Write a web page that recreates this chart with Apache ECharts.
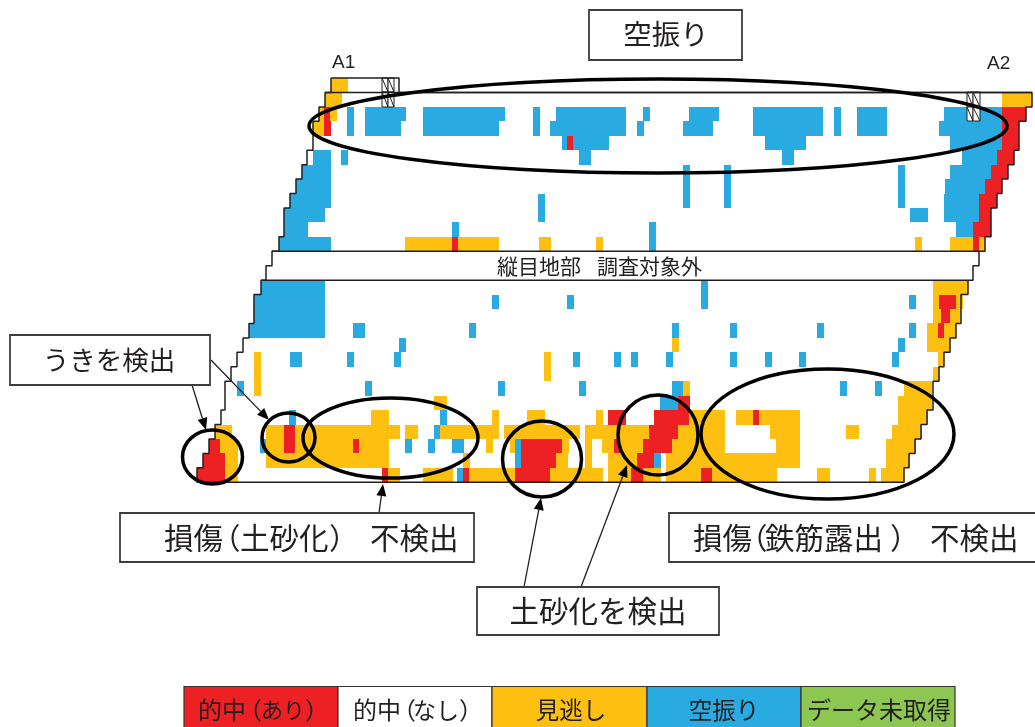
<!DOCTYPE html>
<html>
<head>
<meta charset="utf-8">
<style>
  html, body { margin: 0; padding: 0; background: #fff; }
  #chart { width: 1035px; height: 727px; }
</style>
<script src="https://cdn.jsdelivr.net/npm/echarts@6/dist/echarts.min.js"></script>
</head>
<body>
<div id="chart"></div>
<script>
// 判定ごとの区間 [行, 開始, 終了]
const missRuns = [
  [0, 331, 348], [1, 325, 342], [2, 319, 324], [2, 330, 337], [3, 313, 324],
  [11, 405, 452], [11, 458, 499], [11, 539, 551], [11, 596, 603], [11, 915, 922], [11, 950, 973], [11, 979, 985],
  [1, 1002, 1032],
  [14, 933, 968], [15, 933, 939], [15, 956, 963], [16, 933, 941], [16, 950, 961],
  [17, 927, 938], [17, 944, 956], [18, 672, 679], [18, 927, 950],
  [19, 254, 261], [19, 544, 551], [19, 938, 944], [20, 254, 261], [20, 544, 551], [20, 933, 939],
  [21, 254, 261], [21, 683, 690], [21, 904, 932], [22, 434, 447], [22, 898, 932],
  [23, 371, 389], [23, 492, 499], [23, 527, 545], [23, 596, 603], [23, 689, 725], [23, 736, 753], [23, 759, 800], [23, 898, 928],
  [24, 215, 232], [24, 266, 284], [24, 295, 400], [24, 405, 418], [24, 440, 499], [24, 504, 580], [24, 585, 649], [24, 678, 725], [24, 770, 800], [24, 846, 859], [24, 892, 922],
  [25, 220, 238], [25, 266, 284], [25, 295, 353], [25, 359, 389], [25, 486, 493], [25, 510, 515], [25, 562, 569], [25, 585, 592], [25, 602, 614], [25, 620, 643], [25, 672, 725], [25, 776, 800], [25, 886, 916],
  [26, 225, 238], [26, 266, 389], [26, 463, 470], [26, 556, 568], [26, 585, 592], [26, 608, 637], [26, 666, 800], [26, 886, 910],
  [27, 225, 238], [27, 388, 400], [27, 423, 453], [27, 469, 515], [27, 550, 603], [27, 608, 631], [27, 643, 661], [27, 666, 701], [27, 712, 777], [27, 817, 830], [27, 869, 876], [27, 881, 904]
]
const falseRuns = [
  [2, 347, 354], [2, 365, 406], [2, 423, 505], [2, 533, 540], [2, 556, 626], [2, 643, 650], [2, 689, 719], [2, 753, 823], [2, 834, 841], [2, 857, 887], [2, 944, 1002],
  [3, 347, 354], [3, 365, 401], [3, 423, 499], [3, 533, 540], [3, 550, 626], [3, 637, 644], [3, 683, 713], [3, 753, 823], [3, 834, 841], [3, 857, 887], [3, 939, 1002],
  [4, 562, 567], [4, 573, 609], [4, 765, 806], [4, 950, 1002],
  [5, 313, 331], [5, 341, 348], [5, 579, 591], [5, 782, 794], [5, 962, 997],
  [6, 302, 331], [6, 683, 690], [6, 724, 731], [6, 898, 905], [6, 950, 991],
  [7, 296, 331], [7, 683, 690], [7, 724, 731], [7, 898, 905], [7, 945, 985],
  [8, 290, 331], [8, 538, 545], [8, 683, 690], [8, 724, 731], [8, 898, 905], [8, 944, 979],
  [9, 284, 325], [9, 538, 545], [9, 910, 928], [9, 944, 979],
  [10, 284, 308], [10, 452, 459], [10, 649, 656], [10, 956, 973],
  [11, 279, 331], [11, 649, 656],
  [14, 261, 325], [14, 701, 708], [15, 254, 325], [15, 492, 499], [15, 567, 574], [15, 701, 708], [15, 909, 916],
  [16, 254, 325], [17, 249, 325], [17, 353, 365], [17, 469, 476], [17, 672, 679], [17, 730, 737], [17, 817, 824], [17, 909, 916],
  [18, 399, 406], [18, 898, 905],
  [19, 290, 302], [19, 347, 354], [19, 394, 401], [19, 573, 580], [19, 614, 621], [19, 631, 638], [19, 666, 673], [19, 730, 737], [19, 765, 772], [19, 799, 806], [19, 892, 899],
  [21, 237, 244], [21, 365, 372], [21, 498, 505], [21, 579, 586], [21, 672, 683], [21, 840, 847], [21, 875, 882],
  [22, 660, 678], [23, 289, 296], [23, 440, 447], [24, 434, 440],
  [25, 260, 266], [25, 405, 412], [25, 428, 435], [25, 452, 464], [25, 515, 521],
  [26, 515, 521], [26, 654, 661], [27, 457, 463]
]
const hitRuns = [
  [2, 324, 330], [3, 324, 331], [4, 567, 573], [11, 452, 458],
  [2, 1002, 1026], [3, 1002, 1019], [4, 1002, 1019], [5, 997, 1014], [6, 991, 1008], [7, 985, 1002], [8, 979, 997], [9, 979, 991], [10, 973, 991], [11, 973, 979],
  [15, 939, 956], [16, 941, 950], [17, 938, 944],
  [22, 678, 690], [23, 608, 626], [23, 654, 689], [23, 753, 759],
  [24, 284, 295], [24, 649, 678],
  [25, 209, 220], [25, 284, 295], [25, 353, 359], [25, 521, 562], [25, 614, 620], [25, 643, 672],
  [26, 203, 225], [26, 521, 556], [26, 637, 654],
  [27, 197, 225], [27, 382, 388], [27, 463, 469], [27, 515, 550], [27, 631, 643], [27, 701, 712]
]
const hatchCells = [[0, 382, 388], [0, 388, 394], [1, 382, 388], [1, 388, 394], [1, 967, 973], [1, 973, 980], [2, 967, 973], [2, 973, 980]]

// 外形の階段（行ごとの左端・右端）
const leftEdge = [331, 325, 319, 313, 313, 307, 302, 296, 290, 284, 284, 279, 272, 266, 261, 254, 254, 249, 243, 237, 231, 225, 225, 221, 215, 209, 203, 197]
const rightEdge = [399, 1032, 1026, 1019, 1019, 1014, 1008, 1002, 997, 991, 991, 985, 979, 973, 968, 961, 961, 956, 950, 944, 939, 933, 933, 927, 921, 915, 909, 904]
const dividerRows = [1, 12, 14]

const RED = '#ED2024'
const YELLOW = '#FDBF10'
const BLUE = '#29ABE2'
const GREEN = '#8DC650'
const LINE = '#231F20'
const FONT = '"Noto Sans CJK JP", sans-serif'
const LATIN = '"Liberation Sans", sans-serif'

// 行の境目に隙間が出ないよう整数に丸める
function cellRect (api) {
  const a = api.coord([api.value(1), api.value(0)])
  const b = api.coord([api.value(2), api.value(0) + 1])
  const x = Math.round(a[0])
  const y = Math.round(a[1])
  return { x: x, y: y, width: Math.round(b[0]) - x, height: Math.round(b[1]) - y }
}

function renderRun (params, api) {
  return {
    type: 'rect',
    shape: cellRect(api),
    style: { fill: api.visual('color') }
  }
}

function renderHatch (params, api) {
  const r = cellRect(api)
  return {
    type: 'group',
    children: [
      { type: 'rect', shape: r, style: { fill: '#fff', stroke: LINE, lineWidth: 1 } },
      {
        type: 'line',
        shape: { x1: r.x, y1: r.y, x2: r.x + r.width, y2: r.y + r.height },
        style: { stroke: LINE, lineWidth: 1 }
      }
    ]
  }
}

function runSeries (name, color, data) {
  return {
    name: name,
    type: 'custom',
    renderItem: renderRun,
    itemStyle: { color: color },
    encode: { x: [1, 2], y: 0 },
    data: data,
    z: 2,
    silent: true
  }
}

// 外形を一周する折れ線
function outlinePoints () {
  const pts = []
  leftEdge.forEach((x, r) => {
    pts.push([x, r])
    pts.push([x, r + 1])
  })
  for (let r = rightEdge.length - 1; r >= 0; r--) {
    pts.push([rightEdge[r], r + 1])
    pts.push([rightEdge[r], r])
  }
  pts.push([leftEdge[0], 0])
  return pts
}

function lineSeries (data, width) {
  return {
    type: 'line',
    data: data,
    symbol: 'none',
    lineStyle: { color: LINE, width: width },
    clip: false,
    z: 4,
    silent: true
  }
}

function box (x, y, w, h) {
  return {
    type: 'rect',
    z: 20,
    shape: { x: x, y: y, width: w, height: h },
    style: { fill: '#fff', stroke: '#3d3d3d', lineWidth: 1.8 }
  }
}

function ring (cx, cy, rx, ry) {
  return {
    type: 'ellipse',
    z: 10,
    shape: { cx: cx, cy: cy, rx: rx, ry: ry },
    style: { fill: 'none', stroke: '#000', lineWidth: 3.5 }
  }
}

function arrow (x1, y1, x2, y2) {
  const len = Math.hypot(x2 - x1, y2 - y1)
  const ux = (x2 - x1) / len
  const uy = (y2 - y1) / len
  const bx = x2 - ux * 12
  const by = y2 - uy * 12
  return [
    { type: 'line', z: 11, shape: { x1: x1, y1: y1, x2: bx, y2: by }, style: { stroke: LINE, lineWidth: 1.3 } },
    {
      type: 'polygon',
      z: 11,
      shape: { points: [[x2, y2], [bx - uy * 5, by + ux * 5], [bx + uy * 5, by - ux * 5]] },
      style: { fill: '#000' }
    }
  ]
}

function label (x, y, text, size, align, family) {
  return {
    type: 'text',
    z: 30,
    style: {
      x: x,
      y: y,
      text: text,
      font: size + 'px ' + (family || FONT),
      fill: LINE,
      align: align || 'left',
      verticalAlign: 'middle'
    }
  }
}

// 凡例
const legendEdges = [184, 338, 492, 647, 801, 955]
const legendColors = [RED, '#fff', YELLOW, BLUE, GREEN]
const legendRects = legendColors.map((color, i) => ({
  type: 'rect',
  z: 20,
  shape: { x: legendEdges[i], y: 686.5, width: legendEdges[i + 1] - legendEdges[i], height: 42 },
  style: { fill: color, stroke: '#333', lineWidth: 1.2 }
}))

const chart = echarts.init(document.getElementById('chart'), null, { renderer: 'canvas' })
chart.setOption({
  animation: false,
  backgroundColor: '#fff',
  grid: { left: 0, top: 78, width: 1035, height: 404.3 },
  xAxis: { type: 'value', min: 0, max: 1035, show: false },
  yAxis: { type: 'value', min: 0, max: 28, inverse: true, show: false },
  series: [
    runSeries('見逃し', YELLOW, missRuns),
    runSeries('空振り', BLUE, falseRuns),
    runSeries('的中（あり）', RED, hitRuns),
    {
      type: 'custom',
      renderItem: renderHatch,
      encode: { x: [1, 2], y: 0 },
      data: hatchCells,
      z: 3,
      silent: true
    },
    lineSeries(outlinePoints(), 1.5),
    ...dividerRows.map(r => lineSeries([[leftEdge[r], r], [rightEdge[r], r]], 1.5))
  ],
  graphic: [
    ring(658, 126, 349, 47),
    ring(212.5, 457, 30, 27),
    ring(288.5, 437.5, 26.5, 24.5),
    ring(390.5, 438, 87.5, 40),
    ring(542, 459, 39.5, 38),
    ring(658, 435, 40, 40),
    ring(827.5, 434, 126.5, 65),
    ...arrow(192, 385, 206, 430),
    ...arrow(211, 360, 269, 420),
    ...arrow(379, 513, 383, 484),
    ...arrow(524, 587, 541, 498),
    ...arrow(581, 587, 627, 465),
    label(332, 63, 'A1', 19, 'left', LATIN),
    label(987, 64, 'A2', 19, 'left', LATIN),
    label(497, 266, '縦目地部', 21),
    label(597, 266, '調査対象外', 21),

    box(589, 10, 153, 50),
    label(666, 34, '空振り', 28.5, 'center'),

    box(10, 335, 200, 50),
    label(109, 360, 'うきを検出', 26.5, 'center'),

    box(120, 513, 354, 49),
    label(164, 538, '損傷', 29.5),
    label(211, 538, '（', 29.5),
    label(240, 538, '土砂化', 29.5),
    label(329, 538, '）', 29.5),
    label(370, 538, '不検出', 29.5),

    box(669, 513, 370, 49),
    label(693, 538, '損傷', 29.5),
    label(738, 538, '（', 29.5),
    label(765, 538, '鉄筋露出', 29.5),
    label(890, 538, '）', 29.5),
    label(930, 538, '不検出', 29.5),

    box(477, 587, 242, 48),
    label(598, 611, '土砂化を検出', 29.5, 'center'),

    ...legendRects,
    label(198, 710, '的中', 24),
    label(238, 710, '（', 24),
    label(261, 710, 'あり', 22),
    label(305, 710, '）', 24),
    label(353, 710, '的中', 24),
    label(392, 710, '（', 24),
    label(413, 710, 'なし', 23),
    label(459, 710, '）', 24),
    label(571, 710, '見逃し', 23.5, 'center'),
    label(724, 710, '空振り', 23.5, 'center'),
    label(879, 710, 'データ未取得', 24, 'center')
  ]
})
</script>
</body>
</html>
